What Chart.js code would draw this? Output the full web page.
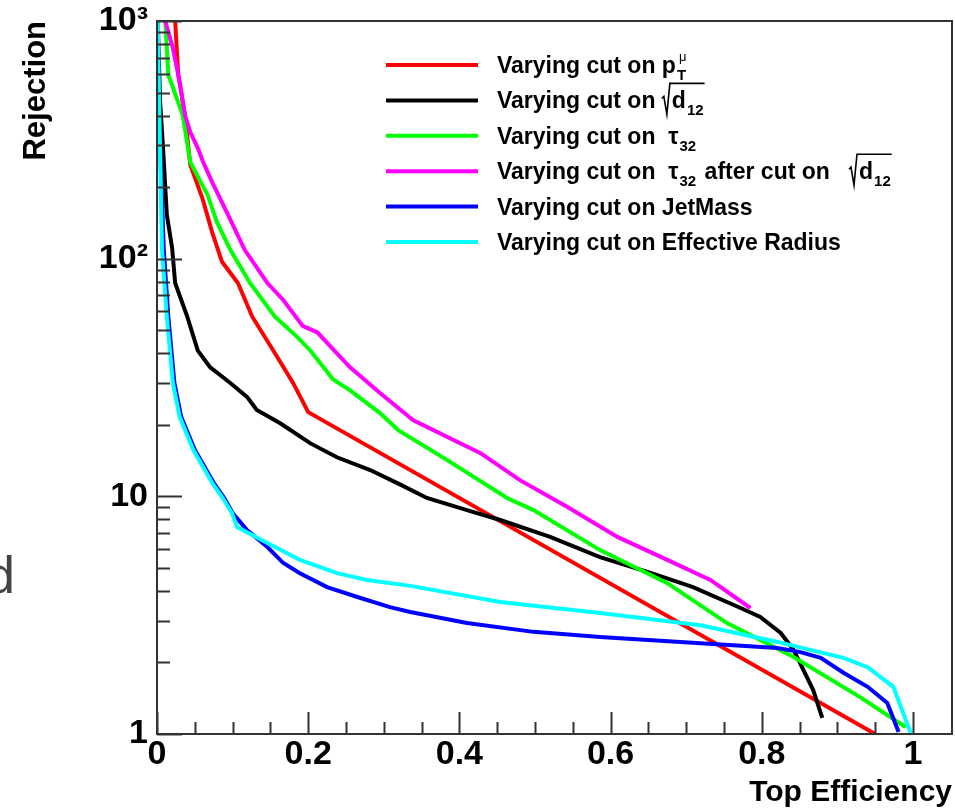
<!DOCTYPE html>
<html>
<head>
<meta charset="utf-8">
<script src="https://cdn.jsdelivr.net/npm/chart.js@4.4.0/dist/chart.umd.min.js"></script>
<style>
  body { margin: 0; background: #fff; }
  canvas { display: block; }
</style>
</head>
<body>
<canvas id="rejChart" width="955" height="812"></canvas>
<script>
// cut on muon pT
const effPt = [0.024, 0.028, 0.037, 0.044, 0.060, 0.073, 0.086, 0.107, 0.126, 0.154, 0.180, 0.200, 0.950];
const rejPt = [1000, 600, 402, 248, 180, 129, 97, 79, 57, 41, 30, 22.6, 1];

// cut on sqrt(d12)
const effD12 = [0.001, 0.004, 0.008, 0.013, 0.020, 0.024, 0.040, 0.054, 0.070, 0.097, 0.119, 0.132, 0.163, 0.203, 0.238, 0.282, 0.322, 0.357, 0.410, 0.454, 0.520, 0.586, 0.653, 0.709, 0.772, 0.798, 0.825, 0.842, 0.855, 0.868, 0.880];
const rejD12 = [1000, 465, 292, 153, 111, 79, 57, 41, 35, 30, 26.2, 23.1, 20.3, 16.7, 14.6, 12.9, 11.2, 9.84, 8.75, 7.95, 6.75, 5.55, 4.76, 4.15, 3.39, 3.11, 2.66, 2.26, 1.86, 1.53, 1.17];

// cut on tau32
const effTau = [0.011, 0.015, 0.020, 0.034, 0.044, 0.067, 0.079, 0.097, 0.123, 0.156, 0.185, 0.203, 0.233, 0.255, 0.295, 0.319, 0.384, 0.463, 0.498, 0.586, 0.675, 0.754, 0.842, 0.930, 0.990];
const rejTau = [1000, 592, 537, 402, 255, 185, 143, 109, 79, 57, 47, 41, 31, 28, 22.4, 19.0, 14.2, 9.84, 8.75, 5.94, 4.31, 2.93, 2.11, 1.43, 1.07];

// cut on tau32 after the sqrt(d12) cut
const effTauD12 = [0.011, 0.021, 0.030, 0.037, 0.044, 0.054, 0.061, 0.073, 0.094, 0.116, 0.146, 0.167, 0.193, 0.212, 0.255, 0.295, 0.339, 0.428, 0.480, 0.543, 0.609, 0.675, 0.732, 0.785];
const rejTauD12 = [1000, 769, 553, 402, 341, 292, 255, 210, 153, 109, 79, 67, 52, 49, 35, 27.2, 20.9, 15.2, 11.7, 9.02, 6.75, 5.40, 4.45, 3.39];

// cut on jet mass
const effMass = [0.000, 0.004, 0.009, 0.015, 0.023, 0.032, 0.050, 0.075, 0.089, 0.100, 0.119, 0.146, 0.167, 0.189, 0.225, 0.265, 0.308, 0.335, 0.410, 0.498, 0.586, 0.719, 0.821, 0.851, 0.878, 0.908, 0.940, 0.966, 0.981];
const rejMass = [650, 300, 109, 57, 30, 21.6, 15.7, 11.4, 9.84, 8.51, 7.21, 6.12, 5.24, 4.75, 4.15, 3.77, 3.42, 3.26, 2.93, 2.69, 2.56, 2.41, 2.30, 2.21, 2.09, 1.81, 1.58, 1.35, 1.02];

// cut on effective radius
const effRad = [0.001, 0.004, 0.0066, 0.013, 0.021, 0.030, 0.048, 0.073, 0.087, 0.099, 0.106, 0.146, 0.189, 0.238, 0.278, 0.335, 0.454, 0.586, 0.719, 0.821, 0.864, 0.908, 0.940, 0.974, 0.997];
const rejRad = [1000, 286, 109, 57, 30, 21.6, 15.7, 11.4, 9.84, 8.51, 7.43, 6.36, 5.40, 4.75, 4.45, 4.20, 3.59, 3.23, 2.87, 2.44, 2.26, 2.09, 1.91, 1.58, 1.01];

const seriesLabels = [
  'Varying cut on pT mu',
  'Varying cut on sqrt(d12)',
  'Varying cut on tau32',
  'Varying cut on tau32 after cut on sqrt(d12)',
  'Varying cut on JetMass',
  'Varying cut on Effective Radius'
];
const seriesColors = ['#ff0000', '#000000', '#00ff00', '#ff00ff', '#0000ff', '#00ffff'];
const seriesEff = [effPt, effD12, effTau, effTauD12, effMass, effRad];
const seriesRej = [rejPt, rejD12, rejTau, rejTauD12, rejMass, rejRad];

// legend text with sub/superscripts and roots
const legendParts = [
  ['Varying cut on p', { sup: 'μ', sub: 'T' }],
  ['Varying cut on ', { root: 'd', sub: '12' }],
  ['Varying cut on  τ', { sub: '32' }],
  ['Varying cut on  τ', { sub: '32' }, ' after cut on   ', { root: 'd', sub: '12' }],
  ['Varying cut on JetMass'],
  ['Varying cut on Effective Radius']
];

const xTicks = [0, 0.2, 0.4, 0.6, 0.8, 1];
const yTicks = [1, 10, 100, 1000];
const yTickLabels = ['1', '10', '10²', '10³'];

const FONT = '"Liberation Sans", Arial, sans-serif';

function drawRich(ctx, parts, x, y) {
  parts.forEach(p => {
    ctx.font = 'bold 23px ' + FONT;
    if (typeof p === 'string') {
      ctx.fillText(p, x, y);
      x += ctx.measureText(p).width;
      return;
    }
    if (p.root) {
      const rw = ctx.measureText(p.root).width;
      ctx.font = 'bold 15px ' + FONT;
      const sw = ctx.measureText(p.sub).width;
      ctx.beginPath();
      ctx.lineWidth = 1.6;
      ctx.moveTo(x, y - 10);
      ctx.lineTo(x + 2, y - 12);
      ctx.lineTo(x + 5, y + 6);
      ctx.lineTo(x + 8, y - 25);
      ctx.lineTo(x + 10 + rw + sw + 2, y - 25);
      ctx.stroke();
      ctx.font = 'bold 23px ' + FONT;
      ctx.fillText(p.root, x + 10, y);
      ctx.font = 'bold 15px ' + FONT;
      ctx.fillText(p.sub, x + 10 + rw + 1, y + 7);
      x += 10 + rw + sw + 4;
      return;
    }
    let w = 0;
    if (p.sup) {
      ctx.font = '13px ' + FONT;
      ctx.fillText(p.sup, x + 3, y - 12);
      w = Math.max(w, ctx.measureText(p.sup).width + 3);
    }
    if (p.sub) {
      ctx.font = 'bold 15px ' + FONT;
      ctx.fillText(p.sub, x + 1, y + 7);
      w = Math.max(w, ctx.measureText(p.sub).width + 1);
    }
    x += w + 2;
  });
}

// ROOT style frame, inside tick marks, legend and stray caption glyph
const rootDecor = {
  id: 'rootDecor',
  afterDatasetsDraw(chart) {
    const { ctx, chartArea: a, scales: { x, y } } = chart;
    ctx.save();
    ctx.strokeStyle = '#333';
    ctx.lineWidth = 2;
    ctx.beginPath();
    for (let i = 0; i <= 20; i++) {
      const px = Math.round(x.getPixelForValue(i * 0.05)) + 0.5;
      const len = i % 4 === 0 ? 22 : 12;
      ctx.moveTo(px, a.bottom);
      ctx.lineTo(px, a.bottom - len);
    }
    for (let d = 1; d <= 1000; d *= 10) {
      for (let m = 1; m <= 9; m++) {
        const v = d * m;
        if (v > 1000) break;
        const py = Math.round(y.getPixelForValue(v)) + 0.5;
        const len = m === 1 ? 25 : 13;
        ctx.moveTo(a.left, py);
        ctx.lineTo(a.left + len, py);
      }
    }
    ctx.stroke();
    ctx.strokeRect(a.left, a.top, a.right - a.left, a.bottom - a.top);

    // legend
    ctx.fillStyle = '#000';
    ctx.strokeStyle = '#000';
    ctx.textAlign = 'left';
    ctx.textBaseline = 'alphabetic';
    chart.data.datasets.forEach((ds, i) => {
      const rowY = 65 + i * 35.4;
      ctx.save();
      ctx.strokeStyle = ds.borderColor;
      ctx.lineWidth = 4;
      ctx.beginPath();
      ctx.moveTo(386, rowY);
      ctx.lineTo(478, rowY);
      ctx.stroke();
      ctx.restore();
      drawRich(ctx, legendParts[i], 497, rowY + 8);
    });

    ctx.fillStyle = '#444';
    ctx.font = '52px ' + FONT;
    ctx.textAlign = 'right';
    ctx.fillText('d', 15, 593);
    ctx.restore();
  }
};

const ctx = document.getElementById('rejChart').getContext('2d');

new Chart(ctx, {
  type: 'line',
  data: {
    datasets: seriesLabels.map((label, i) => ({
      label: label,
      data: seriesEff[i].map((e, j) => ({ x: e, y: seriesRej[i][j] })),
      borderColor: seriesColors[i],
      backgroundColor: seriesColors[i],
      borderWidth: 4,
      pointRadius: 0,
      tension: 0,
      fill: false,
      order: seriesLabels.length - 1 - i
    }))
  },
  options: {
    responsive: false,
    animation: false,
    layout: { padding: { top: 21, right: 3, left: 0, bottom: 0 } },
    plugins: {
      legend: { display: false },
      tooltip: { enabled: false }
    },
    scales: {
      x: {
        type: 'linear',
        min: 0,
        max: 1.0516,
        afterBuildTicks: s => { s.ticks = xTicks.map(v => ({ value: v })); },
        afterFit: s => { s.height = 78; },
        grid: { display: false, drawTicks: false },
        border: { display: false },
        ticks: {
          includeBounds: false,
          maxRotation: 0,
          padding: 0,
          color: '#000',
          font: { family: FONT, size: 34, weight: 'bold' },
          callback: v => (v === 0 || v === 1) ? String(v) : v.toFixed(1)
        },
        title: {
          display: true,
          text: 'Top Efficiency',
          align: 'end',
          color: '#000',
          font: { family: FONT, size: 30, weight: 'bold' },
          padding: { top: 0, bottom: 1 }
        }
      },
      y: {
        type: 'logarithmic',
        min: 1,
        max: 1000,
        afterBuildTicks: s => { s.ticks = yTicks.map(v => ({ value: v })); },
        afterFit: s => { s.width = 157; },
        grid: { display: false, drawTicks: false },
        border: { display: false },
        ticks: {
          autoSkip: false,
          padding: 9,
          color: '#000',
          font: { family: FONT, size: 34, weight: 'bold', lineHeight: 0.55 },
          callback: v => yTickLabels[yTicks.indexOf(v)]
        },
        title: {
          display: true,
          text: 'Rejection',
          align: 'end',
          color: '#000',
          font: { family: FONT, size: 31, weight: 'bold' },
          padding: { top: 18, bottom: 0 }
        }
      }
    }
  },
  plugins: [rootDecor]
});
</script>
</body>
</html>
